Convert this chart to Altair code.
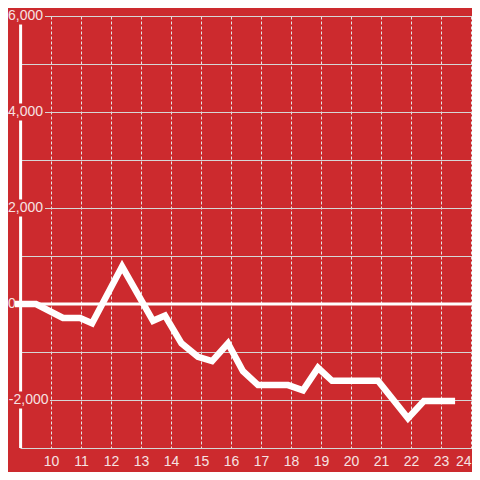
import altair as alt
import pandas as pd

# ---- data ----
x_vals = [8.8, 9.5, 10.4, 10.97, 11.37, 12.37, 13.4, 13.8, 14.35, 14.9, 15.37,
          15.9, 16.4, 16.9, 17.9, 18.4, 18.9, 19.37, 20.9, 21.9, 22.43, 23.47]
y_vals = [0, 0, -290, -290, -400, 780, -350, -240, -820, -1100, -1190,
          -820, -1400, -1690, -1690, -1800, -1330, -1600, -1600, -2380, -2020, -2020]
x_ticks = list(range(10, 25))
y_grid = list(range(-3000, 7000, 1000))
y_label_values = [6000, 4000, 2000, 0, -2000]
y_label_texts = ["6,000", "4,000", "2,000", "0", "-2,000"]

# ---- styles ----
BG = "#cc2a2e"
LABEL = "#f6e2e2"
FONT = "Liberation Sans"
X_DOMAIN = [8.9667, 24.0333]
Y_DOMAIN = [-3000, 6000]
AXIS_X = 8.987

line_df = pd.DataFrame({"x": x_vals, "y": y_vals})
lab_df = pd.DataFrame({"v": y_label_values, "t": y_label_texts})
one = pd.DataFrame({"a": [0]})

xscale = alt.Scale(domain=X_DOMAIN, nice=False, zero=False)
yscale = alt.Scale(domain=Y_DOMAIN, nice=False)

xaxis = alt.Axis(values=x_ticks, grid=True, gridDash=[3, 2], gridColor="#e4e4e4",
                 gridWidth=1, domain=False, ticks=False, labelFontSize=14,
                 labelColor=LABEL, labelFont=FONT, labelPadding=17,
                 labelBaseline="alphabetic", title=None)
yaxis = alt.Axis(values=y_grid, grid=True, gridColor="#d6d6d6", gridWidth=1,
                 domain=False, ticks=False, labels=False, title=None)

zero_line = alt.Chart(one).mark_rule(color="white", strokeWidth=3).encode(
    y=alt.Y(datum=0, scale=yscale, axis=yaxis),
    x=alt.value(-3), x2=alt.value(452))

axis_line = alt.Chart(one).mark_rule(color="white", strokeWidth=3).encode(
    x=alt.X(datum=AXIS_X, scale=xscale, axis=xaxis),
    y=alt.datum(6000), y2=alt.datum(-3000))


def label_layer(cond, box_x, box_x2, text_x, align):
    box = alt.Chart(lab_df).transform_filter(cond).mark_rule(
        color=BG, strokeWidth=17, strokeCap="butt").encode(
        y="v:Q", x=alt.value(box_x), x2=alt.value(box_x2))
    txt = alt.Chart(lab_df).transform_filter(cond).mark_text(
        align=align, baseline="middle", fontSize=14, font=FONT, color=LABEL).encode(
        y="v:Q", x=alt.value(text_x), text="t:N")
    return [box, txt]


labels = (label_layer("datum.v > 0", -18, 25, 23, "right")
          + label_layer("datum.v < 0", -18, 30, 28.5, "right")
          + label_layer("datum.v == 0", -18, -3.5, -12, "left"))

data_line = alt.Chart(line_df).mark_line(
    color="white", strokeWidth=6.5, strokeJoin="miter", strokeCap="butt").encode(
    x=alt.X("x:Q", scale=xscale, axis=xaxis),
    y=alt.Y("y:Q", scale=yscale, axis=yaxis))

chart = alt.layer(zero_line, axis_line, *labels, data_line).properties(
    width=452, height=432, background=BG,
    padding={"left": 12, "top": 8, "right": 0, "bottom": 24},
    autosize=alt.AutoSizeParams(type="none"),
).configure_view(stroke=None)

chart.save("out.html", embed_options={"renderer": "svg", "actions": False})
